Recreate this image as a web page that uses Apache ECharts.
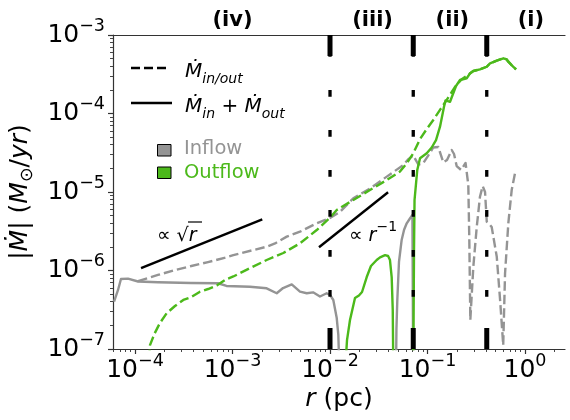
<!DOCTYPE html>
<html><head><meta charset="utf-8">
<script src="https://cdn.jsdelivr.net/npm/echarts@6/dist/echarts.min.js"></script>
<style>html,body{margin:0;padding:0;background:#fff}#c{width:570px;height:420px}</style>
</head><body><div id="c"></div>
<script>
// ---------------- data (r in pc, Mdot in Msun/yr) ----------------
const inflowNet1R = [6.10e-5, 6.70e-5, 7.18e-5, 8.47e-5, 1.074e-4, 1.72e-4, 3.75e-4, 7.10e-4, 8.67e-4, 1.51e-3, 2.24e-3, 2.84e-3, 3.30e-3, 4.05e-3, 4.92e-3, 5.77e-3, 6.70e-3, 7.89e-3, 9.24e-3, 1.0e-2, 1.081e-2, 1.172e-2, 1.217e-2, 1.25e-2];
const inflowNet1M = [4.01e-7, 5.65e-7, 7.80e-7, 7.87e-7, 7.24e-7, 7.08e-7, 6.93e-7, 6.88e-7, 6.35e-7, 6.22e-7, 5.93e-7, 5.13e-7, 5.98e-7, 6.64e-7, 5.37e-7, 5.13e-7, 5.27e-7, 4.67e-7, 5.13e-7, 4.88e-7, 4.21e-7, 2.48e-7, 1.51e-7, 5e-8];
const inflowNet2R = [0.0475, 0.0480, 0.0490, 0.0510, 0.0543, 0.0575, 0.0612, 0.0660, 0.0700, 0.0712, 0.0713];
const inflowNet2M = [5e-8, 1.8e-7, 4.2e-7, 1.3e-6, 2.45e-6, 3.3e-6, 3.99e-6, 4.6e-6, 5.1e-6, 5.3e-6, 5e-8];
const outflowNet1R = [0.01426, 0.01494, 0.01603, 0.01804, 0.0198, 0.0213, 0.0238, 0.0263, 0.0301, 0.0326, 0.0367, 0.0394, 0.0412, 0.0429, 0.0440, 0.0446];
const outflowNet1M = [5e-8, 1.30e-7, 2.34e-7, 4.47e-7, 4.81e-7, 5.32e-7, 8.26e-7, 1.14e-6, 1.36e-6, 1.47e-6, 1.57e-6, 1.53e-6, 1.36e-6, 8.26e-7, 3.14e-7, 5e-8];
const outflowNet2R = [0.0714, 0.0727, 0.0736, 0.0785, 0.0838, 0.0982, 0.1104, 0.1222, 0.1343, 0.1476, 0.1531, 0.1702, 0.1784, 0.196, 0.2155, 0.2522, 0.273, 0.295, 0.345, 0.405, 0.4375, 0.513, 0.600, 0.649, 0.674, 0.736, 0.809];
const outflowNet2M = [5e-8, 1.82e-6, 7.91e-6, 1.91e-5, 2.69e-5, 3.11e-5, 3.69e-5, 4.59e-5, 6.79e-5, 1.22e-4, 1.47e-4, 1.41e-4, 1.49e-4, 2.24e-4, 2.67e-4, 2.81e-4, 3.25e-4, 3.48e-4, 3.65e-4, 3.94e-4, 4.35e-4, 4.71e-4, 5.05e-4, 4.88e-4, 4.57e-4, 4.08e-4, 3.64e-4];
const outflowMagR = [1.374e-4, 1.425e-4, 1.59e-4, 1.80e-4, 2.11e-4, 2.57e-4, 3.13e-4, 3.78e-4, 4.64e-4, 5.61e-4, 6.89e-4, 8.63e-4, 1.019e-3, 1.51e-3, 2.24e-3, 3.32e-3, 4.92e-3, 7.31e-3, 0.01, 0.01172, 0.01734, 0.0257, 0.0382, 0.0522, 0.0612, 0.0714, 0.0838, 0.0982, 0.1146, 0.1343, 0.1574, 0.1914, 0.2244, 0.2522, 0.295, 0.345, 0.405, 0.4375, 0.513, 0.600, 0.649, 0.674, 0.736, 0.809];
const outflowMagM = [5e-8, 1.12e-7, 1.58e-7, 2.14e-7, 2.85e-7, 3.53e-7, 4.21e-7, 4.59e-7, 5.37e-7, 5.81e-7, 6.44e-7, 7.73e-7, 8.39e-7, 1.07e-6, 1.36e-6, 1.67e-6, 2.22e-6, 3.28e-6, 4.73e-6, 5.90e-6, 7.91e-6, 1.06e-5, 1.42e-5, 1.82e-5, 2.32e-5, 3.11e-5, 4.73e-5, 6.35e-5, 8.26e-5, 1.11e-4, 1.49e-4, 2.19e-4, 2.73e-4, 3.01e-4, 3.48e-4, 3.65e-4, 3.94e-4, 4.35e-4, 4.71e-4, 5.05e-4, 4.88e-4, 4.57e-4, 4.08e-4, 3.64e-4];
const inflowMagR = [1.074e-4, 1.72e-4, 2.55e-4, 3.78e-4, 5.61e-4, 8.63e-4, 1.019e-3, 1.63e-3, 2.24e-3, 2.73e-3, 3.60e-3, 4.92e-3, 7.31e-3, 0.01, 0.01268, 0.01734, 0.0257, 0.0382, 0.0565, 0.0631, 0.0714, 0.0805, 0.0900, 0.1012, 0.1146, 0.129, 0.1453, 0.1585, 0.177, 0.187, 0.199, 0.2207, 0.2455, 0.2541, 0.262, 0.2683, 0.2748, 0.295, 0.320, 0.345, 0.368, 0.389, 0.405, 0.4375, 0.455, 0.513, 0.555, 0.5975, 0.624, 0.674, 0.730, 0.789];
const inflowMagM = [7.34e-7, 8.77e-7, 1.01e-6, 1.14e-6, 1.28e-6, 1.47e-6, 1.57e-6, 1.82e-6, 2.01e-6, 2.21e-6, 2.70e-6, 3.12e-6, 3.99e-6, 4.67e-6, 5.61e-6, 8.32e-6, 1.11e-5, 1.57e-5, 2.21e-5, 2.59e-5, 2.92e-5, 2.24e-5, 2.31e-5, 2.88e-5, 3.69e-5, 3.74e-5, 2.38e-5, 2.56e-5, 3.43e-5, 3.05e-5, 2.14e-5, 1.91e-5, 2.34e-5, 2.41e-5, 1.23e-5, 2.45e-6, 2.34e-7, 1.12e-6, 3.61e-6, 8.71e-6, 1.19e-5, 1.0e-5, 4.19e-6, 3.80e-6, 3.58e-6, 1.50e-6, 4.21e-7, 1.12e-7, 9.20e-7, 3.99e-6, 1.06e-5, 1.73e-5];
const sqrtLineR = [1.153e-4, 2.02e-3];
const sqrtLineM = [1.07e-6, 4.49e-6];
const invLineR = [7.71e-3, 0.0394];
const invLineM = [1.98e-6, 9.91e-6];
const boundaryR = [0.01, 0.0714, 0.405];
const regionLabels = ['(iv)', '(iii)', '(ii)', '(i)'];
const regionLabelR = [1.0e-3, 0.0273, 0.180, 1.15];
const xTickExp = [-4, -3, -2, -1, 0];
const yTickExp = [-7, -6, -5, -4, -3];
const rMin = 5.95e-5, rMax = 2.57, mMin = 1e-7, mMax = 1e-3;

// ---------------- helpers ----------------
const L = Math.log10;
const FONT = 'DejaVu Sans';
const GRAY = '#949494', GREEN = '#4cb91b', AX = '#333';
const xMin = L(rMin), xMax = L(rMax), yMin = L(mMin), yMax = L(mMax);
const pairs = (R, M) => R.map((r, i) => [L(r), L(M[i])]);
function minors(lo, hi) {
  const out = [];
  for (let n = Math.floor(lo) - 1; n <= Math.ceil(hi); n++)
    for (let k = 2; k <= 9; k++) { const v = n + L(k); if (v >= lo && v <= hi) out.push(v); }
  return out;
}
const tickRich = {
  b: {fontSize: 25, fontFamily: FONT, color: '#000', lineHeight: 36, verticalAlign: 'middle'},
  s: {fontSize: 17.5, fontFamily: FONT, color: '#000', lineHeight: 18, verticalAlign: 'top'}
};
const supLabel = v => { const n = Math.round(v); return '{b|10}{s|' + (n < 0 ? '\u2212' : '') + Math.abs(n) + '}'; };

function lineSeries(R, M, color, dashed, z) {
  return {type: 'line', data: pairs(R, M), symbol: 'none', clip: true, silent: true, animation: false, z: z || 2,
    lineStyle: {color: color, width: 2.4, type: dashed ? [9.5, 4] : 'solid', cap: 'butt', join: 'round'}};
}

const series = [
  lineSeries(inflowMagR, inflowMagM, GRAY, true, 2),
  lineSeries(outflowMagR, outflowMagM, GREEN, true, 3),
  lineSeries(inflowNet1R, inflowNet1M, GRAY, false, 2),
  lineSeries(inflowNet2R, inflowNet2M, GRAY, false, 2),
  lineSeries(outflowNet1R, outflowNet1M, GREEN, false, 3),
  lineSeries(outflowNet2R, outflowNet2M, GREEN, false, 3),
  lineSeries(sqrtLineR, sqrtLineM, '#000', false, 4),
  lineSeries(invLineR, invLineM, '#000', false, 4)
];
boundaryR.forEach(r => {
  const d = [[L(r), yMin], [L(r), yMax]];
  series.push({type: 'line', data: d, symbol: 'none', silent: true, animation: false, z: 6,
    lineStyle: {color: '#000', width: 3.3, type: [6.7, 33.3], dashOffset: 27.7, cap: 'butt'}});
  series.push({type: 'line', data: d, symbol: 'none', silent: true, animation: false, z: 6,
    lineStyle: {color: '#000', width: 5, type: [21, 272], cap: 'butt'}});
});

const axBase = {type: 'value', splitLine: {show: false}};
const option = {
  animation: false,
  grid: {left: 113, right: 5, top: 35, bottom: 71, containLabel: false},
  xAxis: [
    Object.assign({}, axBase, {min: xMin, max: xMax, position: 'bottom',
      axisLine: {show: true, onZero: false, lineStyle: {color: AX, width: 1.2}},
      axisTick: {show: true, customValues: xTickExp, length: 5, lineStyle: {color: AX, width: 1.2}},
      axisLabel: {customValues: xTickExp, formatter: supLabel, rich: tickRich, margin: 3},
      name: '{i|r} (pc)', nameLocation: 'middle', nameGap: 38,
      nameTextStyle: {fontSize: 25, fontFamily: FONT, color: '#000', rich: {i: {fontSize: 25, fontFamily: FONT, fontStyle: 'italic', color: '#000'}}}}),
    Object.assign({}, axBase, {min: xMin, max: xMax, position: 'bottom',
      axisLine: {show: false, onZero: false},
      axisTick: {show: true, customValues: minors(xMin, xMax), length: 3, lineStyle: {color: AX, width: 0.9}},
      axisLabel: {show: false}}),
    Object.assign({}, axBase, {min: xMin, max: xMax, position: 'top',
      axisLine: {show: true, onZero: false, lineStyle: {color: AX, width: 1.2}},
      axisTick: {show: false}, axisLabel: {show: false}})
  ],
  yAxis: [
    Object.assign({}, axBase, {min: yMin, max: yMax, position: 'left',
      axisLine: {show: true, onZero: false, lineStyle: {color: AX, width: 1.2}},
      axisTick: {show: true, customValues: yTickExp, length: 5, lineStyle: {color: AX, width: 1.2}},
      axisLabel: {customValues: yTickExp, formatter: supLabel, rich: tickRich, margin: 8},
      name: '|{i|\u1E40}| ({i|M}{sub|\u2299}/{i|yr})', nameLocation: 'middle', nameGap: 72,
      nameTextStyle: {fontSize: 25, fontFamily: FONT, color: '#000', rich: {
        i: {fontSize: 25, fontFamily: FONT, fontStyle: 'italic', color: '#000', lineHeight: 32},
        sub: {fontSize: 17.5, fontFamily: FONT, color: '#000', lineHeight: 32, verticalAlign: 'bottom'}}}}),
    Object.assign({}, axBase, {min: yMin, max: yMax, position: 'left',
      axisLine: {show: false, onZero: false},
      axisTick: {show: true, customValues: minors(yMin, yMax), length: 3, lineStyle: {color: AX, width: 0.9}},
      axisLabel: {show: false}})
  ],
  series: series.map(s => Object.assign(s, {xAxisIndex: 0, yAxisIndex: 0}))
};

const chart = echarts.init(document.getElementById('c'), null, {renderer: 'canvas'});
chart.setOption(option);

// ---------------- annotations, legend ----------------
const mRich = {
  m: {fontSize: 20, fontFamily: FONT, fontStyle: 'italic', fill: '#000', lineHeight: 28, verticalAlign: 'middle'},
  s: {fontSize: 14, fontFamily: FONT, fontStyle: 'italic', fill: '#000', lineHeight: 28, verticalAlign: 'bottom'},
  n: {fontSize: 20, fontFamily: FONT, fill: '#000', lineHeight: 28, verticalAlign: 'middle'}
};
const gfx = [];
regionLabels.forEach((t, i) => {
  const p = chart.convertToPixel({gridIndex: 0}, [L(regionLabelR[i]), yMax]);
  gfx.push({type: 'text', x: p[0], y: 21, style: {text: t, font: 'bold 21px "DejaVu Sans"', fill: '#000', align: 'center', verticalAlign: 'middle'}});
});
// legend
gfx.push({type: 'line', shape: {x1: 131, y1: 68, x2: 169, y2: 68}, style: {stroke: '#000', lineWidth: 2.4, lineDash: [9, 4]}});
gfx.push({type: 'text', x: 185, y: 72, style: {text: '{m|\u1E40}{s|in/out}', rich: mRich, verticalAlign: 'middle'}});
gfx.push({type: 'line', shape: {x1: 131, y1: 103, x2: 172, y2: 103}, style: {stroke: '#000', lineWidth: 2.4}});
gfx.push({type: 'text', x: 185, y: 107, style: {text: '{m|\u1E40}{s|in}{n| + }{m|\u1E40}{s|out}', rich: mRich, verticalAlign: 'middle'}});
gfx.push({type: 'rect', shape: {x: 157.5, y: 144.5, width: 13.5, height: 11.5}, style: {fill: GRAY, stroke: '#000', lineWidth: 1}});
gfx.push({type: 'text', x: 184, y: 149, style: {text: 'Inflow', font: '19.5px "DejaVu Sans"', fill: GRAY, verticalAlign: 'middle'}});
gfx.push({type: 'rect', shape: {x: 157.5, y: 167, width: 13.5, height: 11.5}, style: {fill: GREEN, stroke: '#000', lineWidth: 1}});
gfx.push({type: 'text', x: 184, y: 173, style: {text: 'Outflow', font: '19.5px "DejaVu Sans"', fill: GREEN, verticalAlign: 'middle'}});
// slope annotations
const aRich = {
  n: {fontSize: 19, fontFamily: FONT, fill: '#000', lineHeight: 26, verticalAlign: 'bottom'},
  i: {fontSize: 19, fontFamily: FONT, fontStyle: 'italic', fill: '#000', lineHeight: 26, verticalAlign: 'bottom'},
  sup: {fontSize: 14, fontFamily: FONT, fill: '#000', lineHeight: 26, verticalAlign: 'top'}
};
gfx.push({type: 'text', x: 157, y: 233, style: {text: '{n|\u221D \u221A}{i|r}', rich: aRich, verticalAlign: 'middle'}});
gfx.push({type: 'line', shape: {x1: 188, y1: 222, x2: 202, y2: 222}, style: {stroke: '#000', lineWidth: 1.2}});
gfx.push({type: 'text', x: 349, y: 233, style: {text: '{n|\u221D }{i|r}{sup|\u22121}', rich: aRich, verticalAlign: 'middle'}});
chart.setOption({graphic: gfx});
</script></body></html>
